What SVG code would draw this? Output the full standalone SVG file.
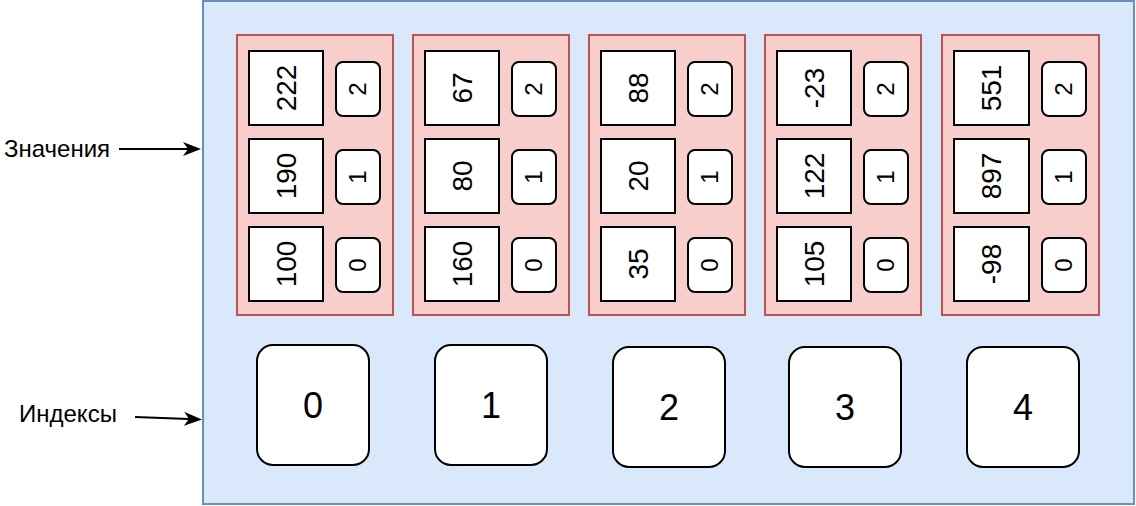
<svg xmlns="http://www.w3.org/2000/svg" width="1136" height="506" viewBox="0 0 1136 506">
<style>
.bg{fill:#dae8fc;stroke:#6c8ebf;stroke-width:2}
.grp{fill:#f8cecc;stroke:#b85450;stroke-width:2}
.val{fill:#ffffff;stroke:#000000;stroke-width:2}
.idx{fill:#ffffff;stroke:#000000;stroke-width:2}
.big{fill:#ffffff;stroke:#000000;stroke-width:2}
text{font-family:"Liberation Sans",Arial,sans-serif;fill:#000000}
.tv{font-size:28px;text-anchor:middle}
.ti{font-size:24px;text-anchor:middle}
.tb{font-size:36px;text-anchor:middle}
.tl{font-size:24px}
.conn{stroke:#000000;stroke-width:2;fill:none}
</style>
<defs>
<marker id="arr" viewBox="0 0 18 14" refX="5" refY="7" markerWidth="18" markerHeight="14" markerUnits="userSpaceOnUse" orient="auto">
<path d="M0,0 L18,7 L0,14 L5,7 z" fill="#000000"/>
</marker>
</defs>
<g id="container"><rect class="bg" x="203" y="1" width="931" height="503"/></g>

<g id="group0">
<rect class="grp" x="237" y="35" width="156" height="280"/>
<rect class="val" x="249" y="51" width="74" height="74"/>
<rect class="val" x="249" y="139" width="74" height="74"/>
<rect class="val" x="249" y="227" width="74" height="74"/>
<rect class="idx" x="336" y="62" width="44" height="54" rx="7"/>
<rect class="idx" x="336" y="150" width="44" height="54" rx="7"/>
<rect class="idx" x="336" y="238" width="44" height="54" rx="7"/>
<text class="tv" transform="translate(286,88) rotate(-90)" dy="0.35em">222</text>
<text class="tv" transform="translate(286,176) rotate(-90)" dy="0.35em">190</text>
<text class="tv" transform="translate(286,264) rotate(-90)" dy="0.35em">100</text>
<text class="ti" transform="translate(358,89) rotate(-90)" dy="0.35em">2</text>
<text class="ti" transform="translate(358,177) rotate(-90)" dy="0.35em">1</text>
<text class="ti" transform="translate(358,265) rotate(-90)" dy="0.35em">0</text>
</g>

<g id="group1">
<rect class="grp" x="413" y="35" width="156" height="280"/>
<rect class="val" x="425" y="51" width="74" height="74"/>
<rect class="val" x="425" y="139" width="74" height="74"/>
<rect class="val" x="425" y="227" width="74" height="74"/>
<rect class="idx" x="512" y="62" width="44" height="54" rx="7"/>
<rect class="idx" x="512" y="150" width="44" height="54" rx="7"/>
<rect class="idx" x="512" y="238" width="44" height="54" rx="7"/>
<text class="tv" transform="translate(462,88) rotate(-90)" dy="0.35em">67</text>
<text class="tv" transform="translate(462,176) rotate(-90)" dy="0.35em">80</text>
<text class="tv" transform="translate(462,264) rotate(-90)" dy="0.35em">160</text>
<text class="ti" transform="translate(534,89) rotate(-90)" dy="0.35em">2</text>
<text class="ti" transform="translate(534,177) rotate(-90)" dy="0.35em">1</text>
<text class="ti" transform="translate(534,265) rotate(-90)" dy="0.35em">0</text>
</g>

<g id="group2">
<rect class="grp" x="589" y="35" width="156" height="280"/>
<rect class="val" x="601" y="51" width="74" height="74"/>
<rect class="val" x="601" y="139" width="74" height="74"/>
<rect class="val" x="601" y="227" width="74" height="74"/>
<rect class="idx" x="688" y="62" width="44" height="54" rx="7"/>
<rect class="idx" x="688" y="150" width="44" height="54" rx="7"/>
<rect class="idx" x="688" y="238" width="44" height="54" rx="7"/>
<text class="tv" transform="translate(638,88) rotate(-90)" dy="0.35em">88</text>
<text class="tv" transform="translate(638,176) rotate(-90)" dy="0.35em">20</text>
<text class="tv" transform="translate(638,264) rotate(-90)" dy="0.35em">35</text>
<text class="ti" transform="translate(710,89) rotate(-90)" dy="0.35em">2</text>
<text class="ti" transform="translate(710,177) rotate(-90)" dy="0.35em">1</text>
<text class="ti" transform="translate(710,265) rotate(-90)" dy="0.35em">0</text>
</g>

<g id="group3">
<rect class="grp" x="765" y="35" width="156" height="280"/>
<rect class="val" x="777" y="51" width="74" height="74"/>
<rect class="val" x="777" y="139" width="74" height="74"/>
<rect class="val" x="777" y="227" width="74" height="74"/>
<rect class="idx" x="864" y="62" width="44" height="54" rx="7"/>
<rect class="idx" x="864" y="150" width="44" height="54" rx="7"/>
<rect class="idx" x="864" y="238" width="44" height="54" rx="7"/>
<text class="tv" transform="translate(814,88) rotate(-90)" dy="0.35em">-23</text>
<text class="tv" transform="translate(814,176) rotate(-90)" dy="0.35em">122</text>
<text class="tv" transform="translate(814,264) rotate(-90)" dy="0.35em">105</text>
<text class="ti" transform="translate(886,89) rotate(-90)" dy="0.35em">2</text>
<text class="ti" transform="translate(886,177) rotate(-90)" dy="0.35em">1</text>
<text class="ti" transform="translate(886,265) rotate(-90)" dy="0.35em">0</text>
</g>

<g id="group4">
<rect class="grp" x="942" y="35" width="157" height="280"/>
<rect class="val" x="954" y="51" width="75" height="74"/>
<rect class="val" x="954" y="139" width="75" height="74"/>
<rect class="val" x="954" y="227" width="75" height="74"/>
<rect class="idx" x="1042" y="62" width="44" height="54" rx="7"/>
<rect class="idx" x="1042" y="150" width="44" height="54" rx="7"/>
<rect class="idx" x="1042" y="238" width="44" height="54" rx="7"/>
<text class="tv" transform="translate(991,88) rotate(-90)" dy="0.35em">551</text>
<text class="tv" transform="translate(991,176) rotate(-90)" dy="0.35em">897</text>
<text class="tv" transform="translate(991,264) rotate(-90)" dy="0.35em">-98</text>
<text class="ti" transform="translate(1064,89) rotate(-90)" dy="0.35em">2</text>
<text class="ti" transform="translate(1064,177) rotate(-90)" dy="0.35em">1</text>
<text class="ti" transform="translate(1064,265) rotate(-90)" dy="0.35em">0</text>
</g>

<g id="index0"><rect class="big" x="257" y="345" width="112" height="120" rx="16"/><text class="tb" x="313" y="405" dy="0.35em">0</text></g>
<g id="index1"><rect class="big" x="435" y="345" width="112" height="120" rx="16"/><text class="tb" x="491" y="405" dy="0.35em">1</text></g>
<g id="index2"><rect class="big" x="613" y="347" width="112" height="120" rx="16"/><text class="tb" x="669" y="407" dy="0.35em">2</text></g>
<g id="index3"><rect class="big" x="789" y="347" width="112" height="120" rx="16"/><text class="tb" x="845" y="407" dy="0.35em">3</text></g>
<g id="index4"><rect class="big" x="967" y="347" width="112" height="120" rx="16"/><text class="tb" x="1023" y="407" dy="0.35em">4</text></g>

<g id="label-values"><text class="tl" x="4" y="157">Значения</text></g>
<g id="label-indexes"><text class="tl" x="19" y="422">Индексы</text></g>

<g id="connectors">
<line class="conn" x1="119" y1="149" x2="188" y2="149" marker-end="url(#arr)"/>
<line class="conn" x1="135" y1="417" x2="189" y2="419" marker-end="url(#arr)"/>
</g>
</svg>
